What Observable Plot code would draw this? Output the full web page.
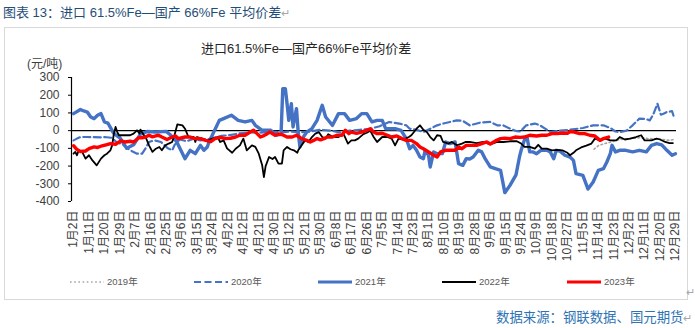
<!DOCTYPE html>
<html>
<head>
<meta charset="utf-8">
<script src="https://cdn.jsdelivr.net/npm/d3@7"></script>
<script src="https://cdn.jsdelivr.net/npm/@observablehq/plot@0.6"></script>
<style>
  body { margin: 0; background: #fff; }
  #page { position: relative; width: 695px; height: 328px; overflow: hidden; background: #fff;
          font-family: "Liberation Sans", "Noto Sans CJK SC", sans-serif; }
  .abs { position: absolute; white-space: nowrap; }
  .cap { left: 3px; top: 4px; font-size: 13px; line-height: 17px; color: #1f4e79; }
  .pm { color: #a6a6a6; font-size: 11px; }
  .box { left: 4px; top: 27px; width: 682px; height: 271px; border: 1px solid #d9d9d9; }
  .ttl { left: 201px; top: 41px; font-size: 13px; line-height: 16px; color: #262626; }
  .unit { left: 27px; top: 57px; font-size: 12px; line-height: 14px; color: #404040; }
  .src { left: 496px; top: 309px; font-size: 13.4px; line-height: 18px; color: #2e74b5; }
  .leg { top: 276px; height: 12px; font-size: 9.5px; line-height: 12px; color: #595959; }
  .leg svg { position: absolute; left: 0; top: 3px; }
  .leg span { position: absolute; top: 0; }
</style>
</head>
<body>
<div id="page">
  <div class="abs cap">图表 13：进口 61.5%Fe—国产 66%Fe 平均价差<span class="pm">↵</span></div>
  <div class="abs box"></div>
  <div class="abs ttl">进口61.5%Fe—国产66%Fe平均价差</div>
  <div class="abs unit">(元/吨)</div>
  <div id="chart" class="abs" style="left:0;top:0"></div>
  <div id="legend"></div>
  <div class="abs pm" style="left:686px;top:286px;">↵</div>
  <div class="abs src">数据来源：钢联数据、国元期货<span class="pm">↵</span></div>
</div>
<script>
// x tick labels (every 9th trading-calendar category)
const tickLabels = ["1月2日","1月11日","1月20日","1月29日","2月7日","2月16日","2月25日","3月6日","3月15日","3月24日",
  "4月2日","4月12日","4月21日","4月30日","5月12日","5月21日","5月30日","6月8日","6月17日","6月26日",
  "7月5日","7月14日","7月23日","8月1日","8月10日","8月19日","8月28日","9月6日","9月15日","9月24日",
  "10月9日","10月18日","10月27日","11月5日","11月14日","11月23日","12月2日","12月11日","12月20日","12月29日"];
const tickStep = 9;
const yTicks = [-400, -300, -200, -100, 0, 100, 200, 300];

// series: [category index, value 元/吨]
const s2019 = [[303.5,-105],[306,-85],[309,-75],[313,-65],[318.5,-50],[324.5,-45],[330,-40],[336,-45],[342,-48],[347.5,-55],[351,-48]];

const s2020 = [[0,-55],[2,-45],[4,-36],[8,-36],[16,-38],[18,-36],[22,-40],[25,-64],[29,-80],[33,-111],[37,-130],[40,-130],[42,-100],[44,-64],[47,-55],[51,-64],[55,-100],[57.5,-111],[59,-80],[62,-50],[66,-60],[70,-45],[74,-55],[80,-45],[86,-30],[91,-25],[97,-15],[103,-10],[109,-12],[115,-5],[120.5,-10],[126,-5],[132,-10],[138,-5],[144,5],[150,0],[155.5,-10],[161,0],[167,5],[173,10],[178.5,25],[184,49],[190,40],[194,30],[196,11],[200,5],[204,-8],[208,11],[212,30],[215.5,40],[219.5,49],[223.5,58],[227,55],[231,30],[237,45],[243,49],[247,30],[250.5,30],[254.5,11],[258.5,-3],[260.5,-5],[264,30],[269,40],[272,30],[275,11],[278,-8],[283.5,0],[289.5,5],[297,15],[303,30],[309,30],[313,15],[316,-5],[318.5,-8],[322.5,0],[326,30],[330,68],[334,65],[336,58],[338,90],[340.5,152],[342.5,90],[344,95],[346,105],[349,110],[350,80]];

const s2021 = [[0,96],[4,119],[6,111],[8,105],[10,77],[12,68],[14,87],[16,96],[18,49],[20,43],[23,-8],[24,-20],[27,-40],[31,-100],[35,-80],[39,-20],[43,-5],[48,-8],[54,-4],[56,-20],[60,-60],[65,-158],[68,-111],[71,-130],[74,-83],[76,-111],[78,-92],[79,-64],[85,58],[87.5,68],[92,87],[96,58],[100,49],[104,58],[106,30],[110,2],[115,2],[118,-26],[121,-20],[122,237],[123.5,237],[124.5,152],[125.5,58],[127,152],[128,21],[130,124],[131,-8],[132,-92],[134,-36],[136,-8],[139,11],[142,58],[145,143],[147,77],[151,30],[154.5,96],[158,96],[161,58],[165,68],[168,96],[171,96],[174,49],[177,58],[180,58],[182,11],[187.5,11],[191,2],[194,-45],[196,-102],[198,-83],[200,-111],[202,-149],[204,-158],[205,-111],[207,-139],[208,-205],[210,-120],[212,-130],[215,-130],[217,-64],[219.5,-73],[222.5,-64],[224.5,-186],[227,-196],[229,-158],[231,-160],[233,-149],[236,-111],[238,-120],[240,-158],[243,-205],[246,-215],[249,-224],[251.5,-350],[254.5,-309],[258,-250],[260,-150],[261,-111],[263,-50],[264.5,-40],[266,-120],[268,-120],[270,-130],[272.5,-111],[276,-111],[278,-120],[280,-158],[281.5,-111],[283.5,-115],[286.5,-139],[289.5,-149],[291.5,-168],[293,-243],[297,-252],[300,-330],[303,-290],[306,-224],[309,-215],[311,-177],[313,-130],[314,-83],[316,-120],[318.5,-111],[322,-111],[326,-120],[330,-111],[334,-120],[337,-83],[340,-73],[343,-80],[346,-111],[349,-139],[351,-130]];

const s2022 = [[0,-130],[1,-120],[2,-139],[3,-111],[5,-120],[7,-158],[9,-139],[11,-168],[13.5,-196],[16,-158],[18,-139],[19.5,-130],[21.5,-111],[22.5,-83],[23.5,-17],[24.5,21],[25.5,-8],[26.5,-26],[30,-26],[33,-26],[35,-17],[37,2],[38.5,-17],[39,6],[41,-26],[42,-36],[44,-83],[46,-120],[48,-102],[50,-92],[51.5,-111],[53.5,-83],[55.5,-73],[57.5,-64],[59,-20],[60.5,35],[63.5,30],[65,11],[67,-36],[70,-36],[71,-64],[72,-36],[75,-45],[78,-55],[81,-45],[84,-36],[85.5,-64],[87.5,-55],[89.5,-100],[92.5,-125],[94.5,-102],[97,-83],[99,-45],[101,-111],[104,-83],[106,-92],[108,-130],[110,-196],[111,-262],[112,-200],[114,-149],[116,-160],[117.5,-149],[119.5,-186],[121.5,-186],[122.5,-111],[124.5,-92],[126.5,-105],[128.5,-111],[130.5,-125],[131,-111],[133,-83],[135,-55],[137,-64],[139,-36],[141,-17],[143,-8],[145,-36],[147,-45],[148.5,-20],[151.5,-36],[154.5,-36],[157.5,-20],[160,-73],[162,-55],[164,-55],[166,-45],[169,-20],[171,-12],[173,0],[175,-36],[177,-64],[180,-36],[183,-36],[185.5,-45],[187.5,-83],[189.5,-45],[192.5,-50],[195.5,-36],[197,-26],[200,11],[202,30],[204,5],[206,-8],[208,-36],[210,-55],[212,-26],[214,-30],[215.5,-64],[218.5,-73],[220.5,-64],[223.5,-83],[226.5,-73],[228.5,-64],[231,-64],[235,-70],[239,-64],[243,-77],[247,-64],[250.5,-64],[254.5,-60],[258.5,-60],[261,-73],[263,-92],[266,-92],[269,-102],[271,-80],[273,-102],[276,-102],[279,-111],[282,-108],[285,-111],[288,-125],[289.5,-139],[291.5,-125],[293,-111],[296,-95],[299,-85],[302,-73],[304,-45],[307,-55],[310,-45],[313,-55],[316.5,-55],[318.5,-36],[321.5,-50],[324.5,-45],[328,-36],[331,-26],[333,-55],[337,-55],[340,-45],[342,-50],[345,-64],[347.5,-70],[349.5,-70]];

const s2023 = [[0,-85],[2,-107],[4,-118],[7,-115],[9,-102],[12,-92],[14,-95],[16,-88],[19,-80],[21.5,-73],[24.5,-77],[27.5,-58],[30,-64],[33,-60],[35,-64],[38,-40],[40,-40],[42,-36],[44,-26],[46,-35],[48,-30],[49.5,-26],[51.5,-36],[54.5,-50],[57.5,-36],[59.5,-30],[61,-45],[65,-36],[68,-36],[71,-45],[74,-45],[77,-55],[80,-62],[82.5,-45],[85.5,-38],[88.5,-45],[91.5,-43],[94.5,-36],[97,-26],[100,-26],[103,-8],[105,2],[107,-17],[109,-36],[111,-28],[113,-17],[114.5,-8],[117.5,-26],[119.5,-20],[121.5,-22],[124.5,-36],[127.5,-36],[130,-26],[133,-45],[136,-55],[138,-64],[140,-55],[142,-45],[144,-52],[146,-45],[148,-36],[151,-36],[153.5,-26],[156.5,-26],[158.5,2],[160.5,-17],[162,-8],[165,-15],[168,-8],[171,2],[173,11],[175,-8],[177,-17],[180,-15],[183,-26],[185.5,-36],[188.5,-30],[191.5,-45],[194,-55],[197,-55],[200,-73],[202,-92],[204,-102],[207,-120],[210,-139],[212,-149],[214,-120],[217,-111],[220,-111],[222.5,-111],[224.5,-92],[226.5,-102],[229,-83],[231,-83],[235,-83],[238,-73],[241,-64],[243,-75],[246,-58],[249,-45],[251.5,-42],[254.5,-45],[257.5,-36],[260.5,-38],[263,-36],[266,-26],[270,-30],[273,-26],[276,-26],[279,-17],[282,-17],[285,-13],[288,-15],[289.5,-5],[292,-8],[295,-17],[298,-17],[301,-26],[304,-30],[307,-55],[309,-45],[312,-36]];

const seriesNames = ["2019年","2020年","2021年","2022年","2023年"];
const seriesStyles = [
  {stroke: "#a5a5a5", strokeWidth: 1.6, strokeDasharray: "1.6,2.6"},
  {stroke: "#4472c4", strokeWidth: 2.2, strokeDasharray: "7,3.5"},
  {stroke: "#4472c4", strokeWidth: 3.4},
  {stroke: "#000000", strokeWidth: 1.8},
  {stroke: "#ff0000", strokeWidth: 3.4}
];
const seriesData = [s2019, s2020, s2021, s2022, s2023];

const tickIndex = tickLabels.map((_, k) => k * tickStep);
const labelOf = new Map(tickIndex.map((t, k) => [t, tickLabels[k]]));
const xMin = -1.2, xMax = 351.6;

const font = "'Liberation Sans', 'Noto Sans CJK SC', sans-serif";
const chart = Plot.plot({
  width: 695,
  height: 266,
  marginLeft: 71,
  marginRight: 19,
  marginTop: 77,
  marginBottom: 65,
  x: {domain: [xMin, xMax]},
  y: {domain: [-400, 300]},
  style: {fontFamily: font, background: "transparent", overflow: "visible"},
  marks: [
    Plot.axisY({ticks: yTicks, tickSize: 3, tickPadding: 9, tickFormat: d => String(d),
                fontSize: 12, stroke: "#000", fill: "#404040", label: null}),
    Plot.axisX({ticks: tickIndex, tickFormat: d => labelOf.get(d), tickRotate: -90, tickSize: 0,
                tickPadding: 9, fontSize: 12, fill: "#404040", label: null}),
    Plot.ruleX([xMin], {y1: -400, y2: 300, stroke: "#000", strokeWidth: 1.2}),
    Plot.ruleY([0], {stroke: "#000", strokeWidth: 1.2}),
    ...seriesData.map((s, k) => Plot.line(s, {x: d => d[0], y: d => d[1], strokeLinejoin: "round", ...seriesStyles[k]}))
  ]
});
document.getElementById("chart").appendChild(chart);

// legend
const legendLeft = [70, 194, 318, 442, 567];
const legend = document.getElementById("legend");
seriesNames.forEach((name, k) => {
  const st = seriesStyles[k];
  const item = document.createElement("div");
  item.className = "abs leg";
  item.style.left = legendLeft[k] + "px";
  item.innerHTML = `<svg width="36" height="6"><line x1="0" y1="3" x2="34" y2="3" stroke="${st.stroke}" stroke-width="${Math.min(st.strokeWidth, 3)}" ${st.strokeDasharray ? `stroke-dasharray="${st.strokeDasharray}"` : ""}/></svg><span style="left:37px">${name}</span>`;
  legend.appendChild(item);
});
</script>
</body>
</html>
